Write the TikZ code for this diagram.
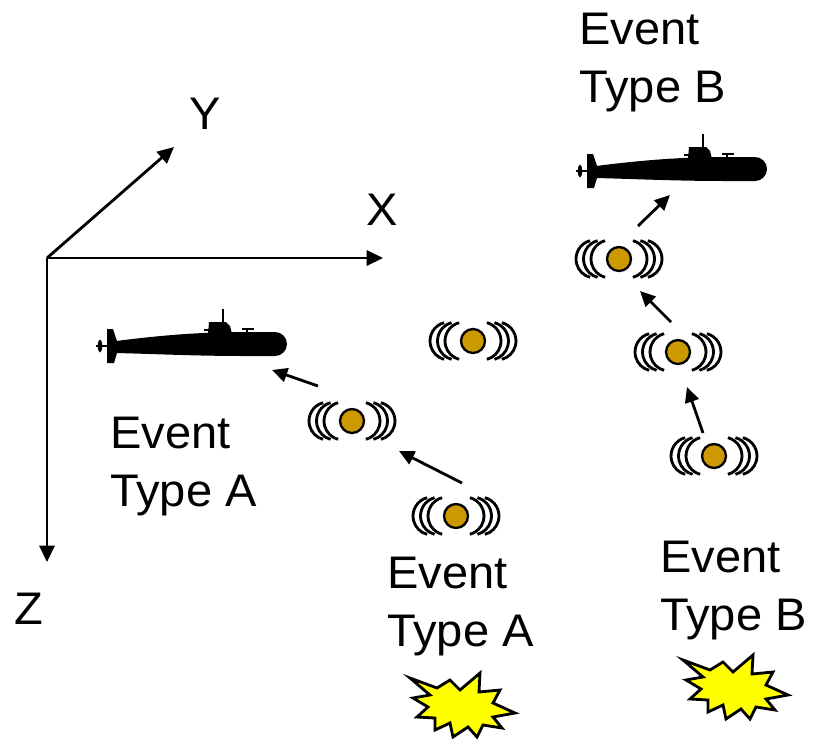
\documentclass[tikz,border=0pt]{standalone}
\usepackage{fontspec}
\setmainfont{Liberation Sans}[FakeStretch=1.03]
\usepackage{tikz}
\usetikzlibrary{arrows.meta}

\definecolor{buoyfill}{RGB}{204,153,0}
\definecolor{blastfill}{RGB}{255,255,0}

\tikzset{
  axis/.style={line width=2.4pt, -{Triangle[length=14pt,width=13pt]}},
  flow/.style={line width=2.4pt, -{Triangle[length=13pt,width=12pt]}},
  wave/.style={line width=2.4pt},
  buoy/.style={line width=2pt, fill=buoyfill},
  tag/.style={inner sep=0pt, align=left, font=\fontsize{39pt}{49.5pt}\selectfont},
  axlabel/.style={inner sep=0pt, font=\fontsize{39pt}{49.5pt}\selectfont},
  % sonar buoy with three waves on each side
  ping/.pic={
    \foreach \d in {28,35.5,43} {
      \draw[wave] (-\d+19,0) ++(105:19) arc (105:255:19);
      \draw[wave] (\d-19,0) ++(75:19) arc (75:-75:19);
    }
    \draw[buoy] (0,0) circle (12);
  },
  % submarine silhouette, origin at the stern of the hull
  sub/.pic={
    \fill (0,5) .. controls (40,10) and (80,14) .. (130,14) -- (159,14)
      arc (90:-90:12) -- (130,-10) .. controls (80,-10) and (40,-8) .. (0,-7) -- cycle;
    \fill (-9,17) -- (-3,17) -- (1,5) -- (1,-7) -- (-2,-17) -- (-9,-17) -- cycle;
    \draw[line width=1.8pt] (-20,0) -- (-8,0);
    \fill (-16,0) ellipse (2.2 and 6.5);
    \fill (92,12) -- (93,24) -- (110,24) -- (114,20) -- (116,12) -- cycle;
    \draw[line width=2pt] (107,23) -- (107,37);
    \draw[line width=1.4pt] (88,16) -- (93,16);
    \draw[line width=1.4pt] (126,17) -- (138,17);
    \draw[line width=1.4pt] (131,13) -- (131,18);
  },
  % explosion burst
  blast/.pic={
    \filldraw[line width=2.4pt, fill=blastfill, line join=miter]
      (-53,27) -- (-26,17) -- (-13,25) -- (-3,15) -- (17,32) -- (16,13)
      -- (37,15) -- (30,2) -- (52,-8) -- (30,-12) -- (39,-23) -- (20,-20)
      -- (14,-32) -- (5,-22) -- (-10,-32) -- (-13,-18) -- (-28,-25) -- (-28,-13)
      -- (-46,-12) -- (-35,-2) -- (-50,7) -- (-33,10) -- cycle;
  }
}

\begin{document}
\begin{tikzpicture}[x=0.3mm,y=0.3mm]
\useasboundingbox (0,0) rectangle (816,-740);

% axes
\coordinate (o) at (47,-258);
\coordinate (xe) at (383,-258);
\coordinate (ye) at (174,-147);
\coordinate (ze) at (47,-562);
\draw[axis] (o) -- (xe);
\draw[axis] (o) -- (ye);
\draw[axis] (o) -- (ze);
\node[axlabel] (xl) at (382,-210) {X};
\node[axlabel] (yl) at (205,-114) {Y};
\node[axlabel] (zl) at (29,-609) {Z};

% submarines
\pic (subA) at (116,-346) {sub};
\pic (subB) at (596,-171) {sub};

% buoys
\pic (pA0) at (473,-341) {ping};
\pic (pA1) at (352,-421) {ping};
\pic (pA2) at (456,-516) {ping};
\pic (pB1) at (619,-259) {ping};
\pic (pB2) at (678,-352) {ping};
\pic (pB3) at (714,-456) {ping};

% arrow ends
\coordinate (a1t) at (318,-386);
\coordinate (a1h) at (272,-370);
\coordinate (a2t) at (462,-483);
\coordinate (a2h) at (399,-451);
\coordinate (b1t) at (638,-226);
\coordinate (b1h) at (670,-195);
\coordinate (b2t) at (671,-322);
\coordinate (b2h) at (640,-291);
\coordinate (b3t) at (703,-433);
\coordinate (b3h) at (687,-387);
\draw[flow] (a1t) -- (a1h);
\draw[flow] (a2t) -- (a2h);
\draw[flow] (b1t) -- (b1h);
\draw[flow] (b2t) -- (b2h);
\draw[flow] (b3t) -- (b3h);

% labels
\node[tag, anchor=north west] (evA1) at (110,-417) {Event\\Type A};
\node[tag, anchor=north west] (evA2) at (387,-557) {Event\\Type A};
\node[tag, anchor=north west] (evB1) at (579,-13) {Event\\Type B};
\node[tag, anchor=north west] (evB2) at (660,-541) {Event\\Type B};

% explosions
\pic (bA) at (463,-705) {blast};
\pic (bB) at (736,-687) {blast};
\end{tikzpicture}
\end{document}
